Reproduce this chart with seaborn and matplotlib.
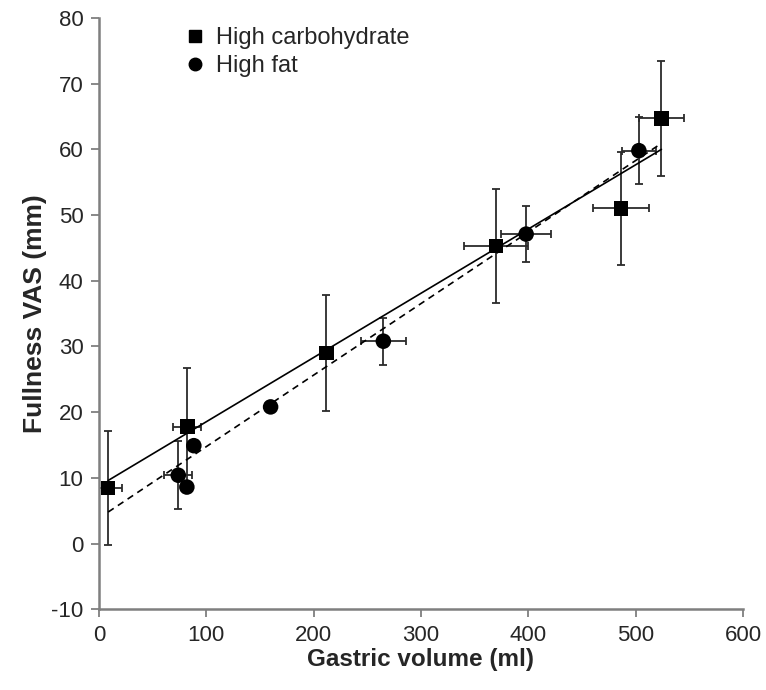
import numpy as np
import pandas as pd
import matplotlib
matplotlib.use("Agg")
import matplotlib.pyplot as plt
import seaborn as sns

# ── Data ────────────────────────────────────────────────────────────────
hc_volume = [8.7, 82.5, 212, 370, 486, 524]
hc_fullness = [8.5, 17.8, 29.0, 45.3, 51.0, 64.7]
hc_vol_err = [13, 13, 4, 30, 26, 21]
hc_full_err = [8.7, 8.9, 8.8, 8.7, 8.6, 8.7]

hf_volume = [74, 82, 88.5, 160, 265, 398, 503]
hf_fullness = [10.4, 8.6, 14.9, 20.8, 30.8, 47.1, 59.8]
hf_vol_err = [13, 3, 3, 3, 21, 23, 16]
hf_full_err = [5.2, 0.8, 0.8, 0.8, 3.6, 4.3, 5.1]

# regression lines (slope, intercept) as drawn in the figure
hc_fit = (0.0978, 8.75)
hf_fit = (0.1089, 3.85)
fit_range = [8.7, 524]

x_ticks = [0, 100, 200, 300, 400, 500, 600]
y_ticks = [-10, 0, 10, 20, 30, 40, 50, 60, 70, 80]

df = pd.DataFrame({
    "volume": hc_volume + hf_volume,
    "fullness": hc_fullness + hf_fullness,
    "vol_err": hc_vol_err + hf_vol_err,
    "full_err": hc_full_err + hf_full_err,
    "diet": ["High carbohydrate"] * len(hc_volume) + ["High fat"] * len(hf_volume),
})

sns.set_style("white")
plt.rcParams["font.family"] = ["Liberation Sans", "DejaVu Sans"]
plt.rcParams["axes.unicode_minus"] = False

fig, ax = plt.subplots(figsize=(7.66, 6.9), dpi=100)
fig.subplots_adjust(left=0.129, right=0.970, bottom=0.117, top=0.974)

# error bars first, under the markers
for diet, sub in df.groupby("diet"):
    ax.errorbar(sub["volume"], sub["fullness"], xerr=sub["vol_err"], yerr=sub["full_err"],
                fmt="none", ecolor="#2b2b2b", elinewidth=1.3, capsize=3, capthick=1.3,
                zorder=2)

# fit lines
xs = np.array(fit_range)
ax.plot(xs, hc_fit[0] * xs + hc_fit[1], color="black", lw=1.2, ls="-", zorder=3)
ax.plot(xs, hf_fit[0] * xs + hf_fit[1], color="black", lw=1.2, ls=(0, (4, 3)), zorder=3)

sns.scatterplot(data=df, x="volume", y="fullness", style="diet",
                markers={"High carbohydrate": "s", "High fat": "o"},
                size="diet", sizes={"High carbohydrate": 105, "High fat": 125},
                color="black", edgecolor="black", linewidth=0,
                ax=ax, zorder=4, legend=False)

# legend
hc_h = plt.Line2D([], [], ls="none", marker="s", color="black", markersize=8)
hf_h = plt.Line2D([], [], ls="none", marker="o", color="black", markersize=9)
ax.legend([hc_h, hf_h], ["High carbohydrate", "High fat"], loc="upper left",
          bbox_to_anchor=(0.112, 1.0), frameon=False, fontsize=17,
          handletextpad=0.3, labelspacing=0.25, borderaxespad=0, handlelength=1.2)

ax.set_xlim(0, 600)
ax.set_ylim(-10, 80)
ax.set_xticks(x_ticks)
ax.set_yticks(y_ticks)
ax.set_xlabel("Gastric volume (ml)", fontsize=17.5, fontweight="bold", labelpad=2)
ax.set_ylabel("Fullness VAS (mm)", fontsize=19, fontweight="bold", labelpad=3)
ax.tick_params(axis="both", labelsize=16, direction="out", length=6, width=1.3,
               color="#7f7f7f", left=True, bottom=True, pad=5)

sns.despine(ax=ax)
for side in ["left", "bottom"]:
    ax.spines[side].set_color("#7f7f7f")
    ax.spines[side].set_linewidth(1.8)

plt.savefig("out.png", dpi=100)
plt.close()
